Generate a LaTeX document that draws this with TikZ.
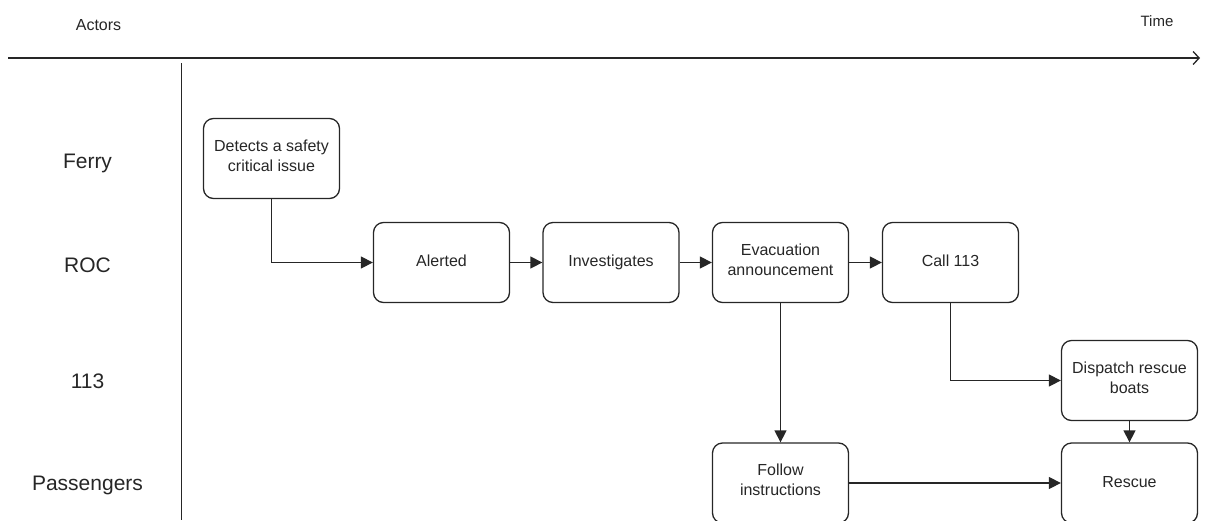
\documentclass[tikz,border=0pt]{standalone}
\usepackage{fontspec}
\setmainfont{Liberation Sans}
\usetikzlibrary{arrows.meta}

\begin{document}
\begin{tikzpicture}[x=1pt,y=-1pt,
  stage/.style={draw=black!85,line width=1.3pt,rounded corners=10pt,
    minimum width=136pt,minimum height=80pt,align=center,
    font=\fontsize{16}{20}\selectfont,text=black!85,
    execute at begin node=\strut},
  flow/.style={draw=black!85,line width=1.3pt,-{Triangle[length=12pt,width=12pt]}},
  actor/.style={anchor=base,font=\fontsize{21}{25}\selectfont,text=black!85}]

\useasboundingbox (0,0) rectangle (1208,520);

% time axis and actor column
\node[font=\fontsize{16}{20}\selectfont,text=black!85] (actors) at (98.5,25.5) {Actors};
\node[font=\fontsize{15}{18}\selectfont,text=black!85] (time) at (1157,21) {Time};
\coordinate (t0) at (8,58);
\coordinate (t1) at (1200,58);
\draw[black!85,line width=1.3pt,-{Straight Barb[length=6pt,width=13pt]}] (t0) -- (t1);
\coordinate (d0) at (181.5,63);
\coordinate (d1) at (181.5,520);
\draw[black!85,line width=1.3pt] (d0) -- (d1);

\node[actor] (ferry) at (87.5,168) {Ferry};
\node[actor] (roc) at (87.5,272) {ROC};
\node[actor] (sos) at (87.5,388) {113};
\node[actor] (pax) at (87.5,490) {Passengers};

% steps
\node[stage] (detect) at (271.5,158.5) {Detects a safety\\critical issue};
\node[stage] (alerted) at (441.5,262.5) {Alerted};
\node[stage] (investigate) at (611,262.5) {Investigates};
\node[stage] (evac) at (780.5,262.5) {Evacuation\\announcement};
\node[stage] (call) at (950.5,262.5) {Call 113};
\node[stage] (dispatch) at (1129.5,380.5) {Dispatch rescue\\boats};
\node[stage] (follow) at (780.5,483) {Follow\\instructions};
\node[stage] (rescue) at (1129.5,483) {Rescue};

% connectors
\draw[flow] (detect) |- (alerted);
\draw[flow] (alerted) -- (investigate);
\draw[flow] (investigate) -- (evac);
\draw[flow] (evac) -- (call);
\draw[flow] (evac) -- (follow);
\draw[flow] (call) |- (dispatch);
\draw[flow] (dispatch) -- (rescue);
\draw[flow] (follow) -- (rescue);
\end{tikzpicture}
\end{document}
